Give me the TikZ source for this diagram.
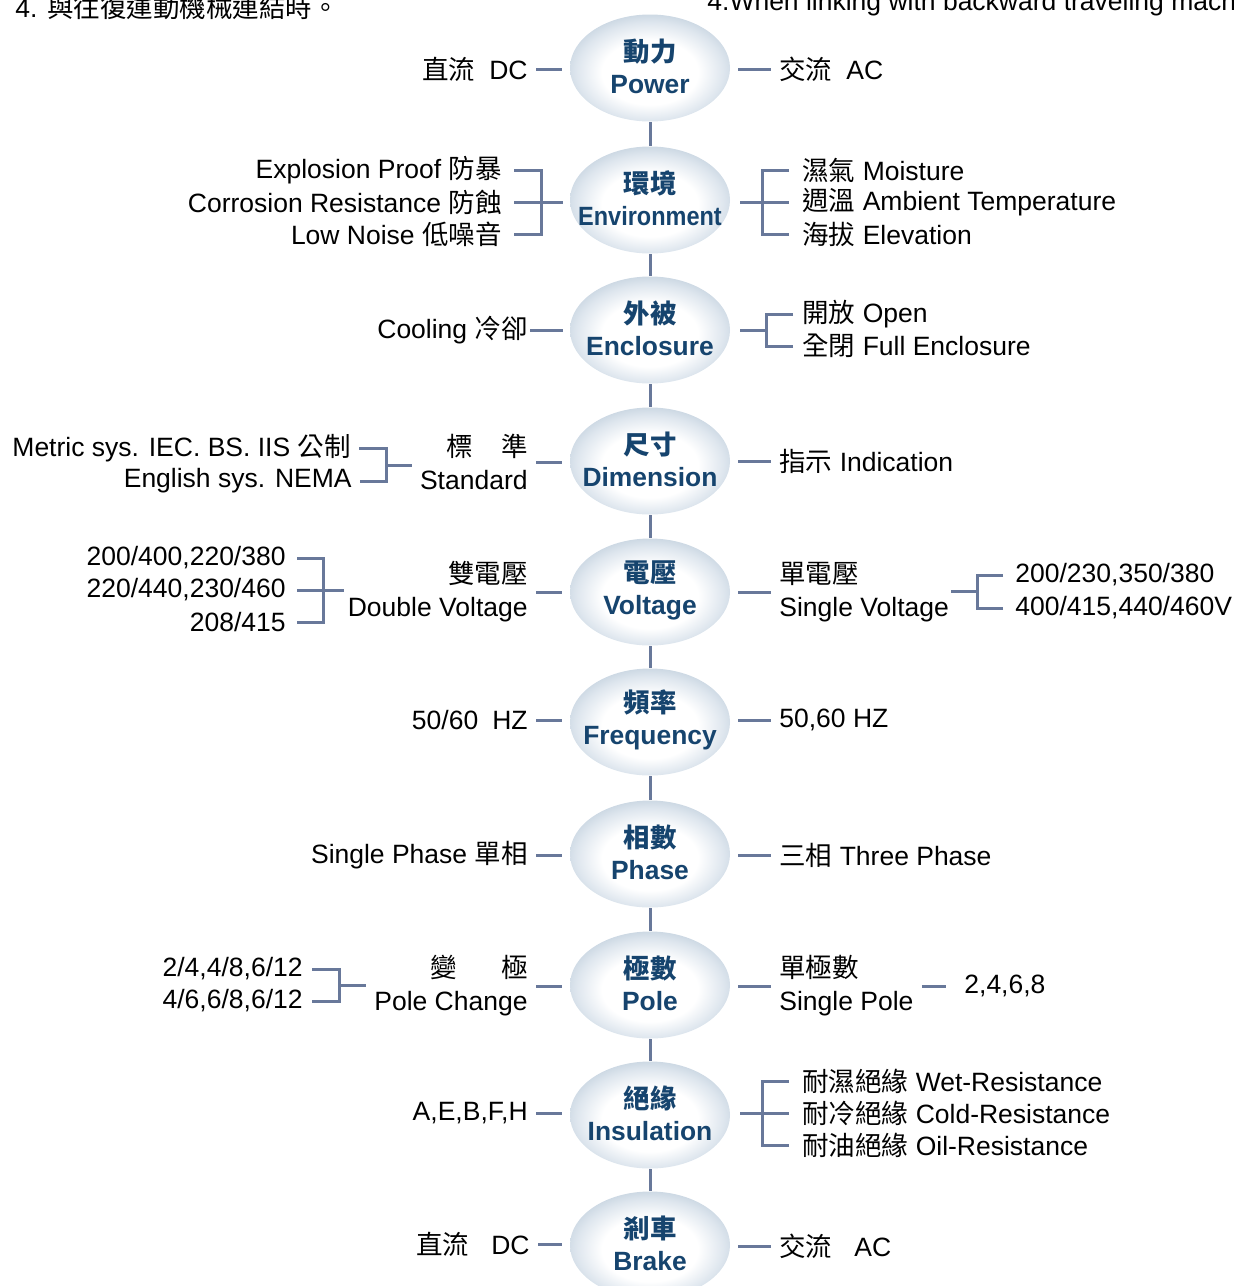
\documentclass[tikz,border=0pt]{standalone}
\usepackage{fontspec}
\usepackage{graphicx}
\usepackage{tikz}
\usetikzlibrary{shapes.geometric}
\setmainfont{Liberation Sans}
\newfontfamily\cjk{Noto Sans CJK TC}
\newcommand{\zh}[1]{{\cjk #1}}
\definecolor{linkgray}{RGB}{104,120,154}
\definecolor{bubbleblue}{RGB}{22,68,110}
\definecolor{bubbleedge}{RGB}{182,199,214}
\definecolor{bubblemid}{RGB}{222,230,238}
\pgfdeclareradialshading{bubbleshade}{\pgfpoint{0bp}{-3bp}}{color(0bp)=(white); color(15bp)=(white); color(23bp)=(bubblemid); color(31bp)=(bubbleedge); color(50bp)=(bubbleedge)}

\begin{document}
\begin{tikzpicture}[x=0.5pt, y=-0.5pt,
	bubble/.style={ellipse, shade, shading=bubbleshade, minimum width=80pt, minimum height=53.5pt, inner sep=0pt},
	bubbletext/.style={text=bubbleblue, font=\bfseries\fontsize{13.2}{16}\selectfont, align=center, inner sep=0pt},
	lbl/.style={inner sep=0pt, font=\fontsize{13.25}{16.5}\selectfont},
	link/.style={draw=linkgray, line width=1.5pt},
	stub/.style={link, shorten <=4pt, shorten >=4pt}]
			\useasboundingbox (0,0) rectangle (1234,1286);
			\clip (0,0) rectangle (1234,1286);
			% Top lines
			\node[lbl, anchor=base west] (noteZh) at (15,17) {4. \zh{與往復運動機械連結時。}};
			\node[lbl, anchor=base west] (noteEn) at (707,10) {4.When linking with backward traveling machi};
			% Bubbles
			\foreach \n/\zht/\ent/\y in {power/動力/Power/68, env/環境/{\scalebox{0.89}[1]{Environment}}/200, encl/外被/Enclosure/330, dim/尺寸/Dimension/461, volt/電壓/Voltage/592, freq/頻率/Frequency/722, phase/相數/Phase/854, pole/極數/Pole/985, insul/絕緣/Insulation/1115, brake/剎車/Brake/1245} {
				\node[bubble] (\n) at (650,\y) {};
				\node[bubbletext] (t\n) at (650,\y-2) {\zh{\zht}\\\ent};
			}
			\foreach \a/\b in {power/env, env/encl, encl/dim, dim/volt, volt/freq, freq/phase, phase/pole, pole/insul, insul/brake} {
				\draw[link] (\a) -- (\b);
			}
			% Power
			\node[lbl, anchor=east] (powerL) at (528,69) {\zh{直流}\hspace{7pt}DC};
			\node[lbl, anchor=west] (powerR) at (779,69) {\zh{交流}\hspace{7pt}AC};
			\draw[stub] (powerL.east) -- (powerL.east -| power.west);
			\draw[stub] (power.east |- powerR.west) -- (powerR.west);
			% Environment
			\node[lbl, anchor=east] (envL1) at (502,170) {Explosion Proof \zh{防暴}};
			\node[lbl, anchor=east] (envL2) at (502,202) {Corrosion Resistance \zh{防蝕}};
			\node[lbl, anchor=east] (envL3) at (502,234) {Low Noise \zh{低噪音}};
			\coordinate (envLj) at (541,202);
			\draw[link, shorten <=6pt] (envL1.east) -| (envLj);
			\draw[link, shorten <=6pt] (envL3.east) -| (envLj);
			\draw[link, shorten <=6pt, shorten >=3.5pt] (envL2.east) -- (envL2.east -| env.west);
			\node[lbl, anchor=west] (envR1) at (802,170) {\zh{濕氣} Moisture};
			\node[lbl, anchor=west] (envR2) at (802,202) {\zh{週溫} Ambient Temperature};
			\node[lbl, anchor=west] (envR3) at (802,234) {\zh{海拔} Elevation};
			\coordinate (envRj) at (762,202);
			\draw[link, shorten <=5pt, shorten >=6.5pt] (env.east |- envR2.west) -- (envR2.west);
			\draw[link, shorten <=6.5pt] (envR1.west) -| (envRj);
			\draw[link, shorten <=6.5pt] (envR3.west) -| (envRj);
			% Enclosure
			\node[lbl, anchor=east] (enclL) at (528,330) {Cooling \zh{冷卻}};
			\draw[link, shorten <=1pt, shorten >=3.5pt] (enclL.east) -- (enclL.east -| encl.west);
			\node[lbl, anchor=west] (enclR1) at (802,314) {\zh{開放} Open};
			\node[lbl, anchor=west] (enclR2) at (802,346) {\zh{全閉} Full Enclosure};
			\coordinate (enclRj) at (766,330);
			\draw[link, shorten <=5pt] (encl.east) -- (enclRj);
			\draw[link, shorten <=4.5pt] (enclR1.west) -| (enclRj);
			\draw[link, shorten <=4.5pt] (enclR2.west) -| (enclRj);
			% Dimension
			\node[lbl, anchor=east, align=right] (dimL) at (528,462) {\zh{標\hspace{14pt}準}\\Standard};
			\draw[stub] (dimL.east) -- (dimL.east -| dim.west);
			\node[lbl, anchor=east] (dimL1) at (351,448) {Metric sys. IEC. BS. IIS \zh{公制}};
			\node[lbl, anchor=east] (dimL2) at (352,481) {English sys. NEMA};
			\coordinate (dimLj) at (386,465);
			\draw[link, shorten <=4pt] (dimL1.east) -| (dimLj);
			\draw[link, shorten <=4pt] (dimL2.east) -| (dimLj);
			\draw[link, shorten >=4pt] (dimLj) -- (dimLj -| dimL.west);
			\node[lbl, anchor=west] (dimR) at (779,461) {\zh{指示} Indication};
			\draw[stub] (dim.east |- dimR.west) -- (dimR.west);
			% Voltage
			\node[lbl, anchor=east, align=right] (voltL) at (528,592) {\zh{雙電壓}\\Double Voltage};
			\draw[stub] (voltL.east) -- (voltL.east -| volt.west);
			\node[lbl, anchor=east] (voltL1) at (286,558) {200/400,220/380};
			\node[lbl, anchor=east] (voltL2) at (286,590) {220/440,230/460};
			\node[lbl, anchor=east] (voltL3) at (286,622) {208/415};
			\coordinate (voltLj) at (323,590);
			\draw[link, shorten <=5.5pt] (voltL1.east) -| (voltLj);
			\draw[link, shorten <=5.5pt] (voltL3.east) -| (voltLj);
			\draw[link, shorten <=5.5pt, shorten >=1.5pt] (voltL2.east) -- (voltL2.east -| voltL.west);
			\node[lbl, anchor=west, align=left] (voltR) at (779,592) {\zh{單電壓}\\Single Voltage};
			\draw[stub] (volt.east |- voltR.west) -- (voltR.west);
			\node[lbl, anchor=west] (voltR1) at (1015,575) {200/230,350/380};
			\node[lbl, anchor=west] (voltR2) at (1015,608) {400/415,440/460V};
			\coordinate (voltRj) at (977,591);
			\draw[link, shorten <=1pt] (voltR.east |- voltRj) -- (voltRj);
			\draw[link, shorten <=6pt] (voltR1.west) -| (voltRj);
			\draw[link, shorten <=6pt] (voltR2.west) -| (voltRj);
			% Frequency
			\node[lbl, anchor=east] (freqL) at (528,720) {50/60\hspace{7pt}HZ};
			\node[lbl, anchor=west] (freqR) at (779,720) {50,60 HZ};
			\draw[stub] (freqL.east) -- (freqL.east -| freq.west);
			\draw[stub] (freq.east |- freqR.west) -- (freqR.west);
			% Phase
			\node[lbl, anchor=east] (phaseL) at (528,855) {Single Phase \zh{單相}};
			\node[lbl, anchor=west] (phaseR) at (779,855) {\zh{三相} Three Phase};
			\draw[stub] (phaseL.east) -- (phaseL.east -| phase.west);
			\draw[stub] (phase.east |- phaseR.west) -- (phaseR.west);
			% Pole
			\node[lbl, anchor=east, align=right] (poleL) at (528,986) {\zh{變\hspace{22pt}極}\\Pole Change};
			\draw[stub] (poleL.east) -- (poleL.east -| pole.west);
			\node[lbl, anchor=east] (poleL1) at (303,969) {2/4,4/8,6/12};
			\node[lbl, anchor=east] (poleL2) at (303,1001) {4/6,6/8,6/12};
			\coordinate (poleLj) at (339,985);
			\draw[link, shorten <=4.5pt] (poleL1.east) -| (poleLj);
			\draw[link, shorten <=4.5pt] (poleL2.east) -| (poleLj);
			\draw[link, shorten >=4pt] (poleLj) -- (poleLj -| poleL.west);
			\node[lbl, anchor=west, align=left] (poleR) at (779,986) {\zh{單極數}\\Single Pole};
			\node[lbl, anchor=west] (poleR1) at (964,986) {2,4,6,8};
			\draw[stub] (pole.east |- poleR.west) -- (poleR.west);
			\draw[link, shorten <=4pt, shorten >=9pt] (poleR.east) -- (poleR1.west);
			% Insulation
			\node[lbl, anchor=east] (insulL) at (528,1113) {A,E,B,F,H};
			\draw[stub] (insulL.east) -- (insulL.east -| insul.west);
			\node[lbl, anchor=west] (insulR1) at (802,1081) {\zh{耐濕絕緣} Wet-Resistance};
			\node[lbl, anchor=west] (insulR2) at (802,1113) {\zh{耐冷絕緣} Cold-Resistance};
			\node[lbl, anchor=west] (insulR3) at (802,1145) {\zh{耐油絕緣} Oil-Resistance};
			\coordinate (insulRj) at (762,1113);
			\draw[link, shorten <=5pt, shorten >=6.5pt] (insul.east |- insulR2.west) -- (insulR2.west);
			\draw[link, shorten <=6.5pt] (insulR1.west) -| (insulRj);
			\draw[link, shorten <=6.5pt] (insulR3.west) -| (insulRj);
			% Brake
			\node[lbl, anchor=east] (brakeL) at (530,1244) {\zh{直流}\hspace{11pt}DC};
			\node[lbl, anchor=west] (brakeR) at (779,1246) {\zh{交流}\hspace{11pt}AC};
			\draw[stub] (brakeL.east) -- (brakeL.east -| brake.west);
			\draw[stub] (brake.east |- brakeR.west) -- (brakeR.west);
		\end{tikzpicture}
\end{document}
